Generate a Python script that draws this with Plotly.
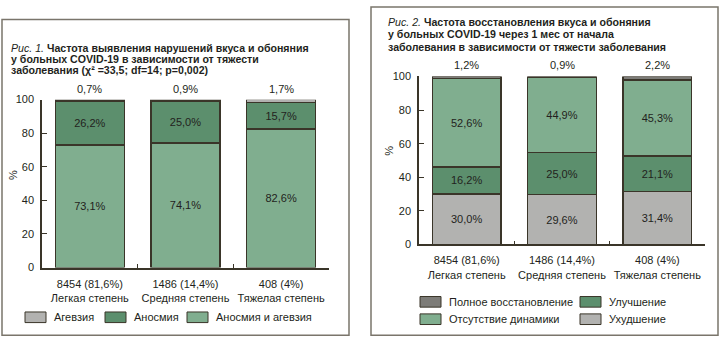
import plotly.graph_objects as go

W, H = 720, 345

# ---- data ----
cat_counts = ["8454 (81,6%)", "1486 (14,4%)", "408 (4%)"]
cat_names = ["Легкая степень", "Средняя степень", "Тяжелая степень"]

# Figure 1 (bottom -> top)
f1_both = [73.1, 74.1, 82.6]      # Аносмия и агевзия
f1_anosmia = [26.2, 25.0, 15.7]   # Аносмия
f1_ageusia = [0.7, 0.9, 1.7]      # Агевзия

# Figure 2 (bottom -> top)
f2_worse = [30.0, 29.6, 31.4]     # Ухудшение
f2_better = [16.2, 25.0, 21.1]    # Улучшение
f2_nochange = [52.6, 44.9, 45.3]  # Отсутствие динамики
f2_full = [1.2, 0.9, 2.2]         # Полное восстановление

yticks = [0, 20, 40, 60, 80, 100]

title1 = ["<i>Рис. 1.</i> <b>Частота выявления нарушений вкуса и обоняния</b>",
          "<b>у больных COVID-19 в зависимости от тяжести</b>",
          "<b>заболевания (χ² =33,5; df=14; p=0,002)</b>"]
title2 = ["<i>Рис. 2.</i> <b>Частота восстановления вкуса и обоняния</b>",
          "<b>у больных COVID-19 через 1 мес от начала</b>",
          "<b>заболевания в зависимости от тяжести заболевания</b>"]

# ---- styles ----
C_LGREEN = "#80ae8f"
C_DGREEN = "#5c8f6d"
C_LGRAY = "#b2b2b0"
C_DGRAY = "#7d7c78"
C_LINE = "#3a3529"
C_TEXT = "#231f20"
C_BORDER = "#7a756b"
FONT = "Liberation Sans, Arial, sans-serif"

cats = [f"{a}<br>{b}" for a, b in zip(cat_counts, cat_names)]

def px(x):
    return x / W

def py(y):
    return 1 - y / H

fig = go.Figure()
ann = []
shapes = []

def add_bar(vals, color, xa, ya, name, inside=True):
    kw = {}
    if inside:
        kw = dict(texttemplate="%{y:.1f}%", textposition="inside",
                  insidetextanchor="middle", constraintext="none",
                  textfont=dict(size=11, color=C_TEXT, family=FONT))
    fig.add_trace(go.Bar(
        x=cats, y=vals, name=name, xaxis=xa, yaxis=ya,
        marker=dict(color=color, line=dict(color=C_LINE, width=1.5)),
        cliponaxis=False, showlegend=False, **kw
    ))

def top_labels(stacks, top_vals, xa, ya):
    for i, c in enumerate(cats):
        total = min(sum(s[i] for s in stacks), 100)
        ann.append(dict(text=f"{top_vals[i]:.1f}%".replace(".", ","),
                        xref=xa, yref=ya, x=c, y=total, yanchor="bottom",
                        yshift=3, showarrow=False,
                        font=dict(size=11, color=C_TEXT, family=FONT)))

add_bar(f1_both, C_LGREEN, "x", "y", "Аносмия и агевзия")
add_bar(f1_anosmia, C_DGREEN, "x", "y", "Аносмия")
add_bar(f1_ageusia, C_LGRAY, "x", "y", "Агевзия", inside=False)
top_labels([f1_both, f1_anosmia, f1_ageusia], f1_ageusia, "x", "y")

add_bar(f2_worse, C_LGRAY, "x2", "y2", "Ухудшение")
add_bar(f2_better, C_DGREEN, "x2", "y2", "Улучшение")
add_bar(f2_nochange, C_LGREEN, "x2", "y2", "Отсутствие динамики")
add_bar(f2_full, C_DGRAY, "x2", "y2", "Полное восстановление", inside=False)
top_labels([f2_worse, f2_better, f2_nochange, f2_full], f2_full, "x2", "y2")

xcommon = dict(type="category", showline=True, linecolor=C_LINE, linewidth=1.5,
               ticks="inside", ticklen=4, tickwidth=1, tickcolor=C_LINE,
               tickson="boundaries", showgrid=False, zeroline=False, tickangle=0,
               ticklabelstandoff=5,
               tickfont=dict(size=11, color=C_TEXT, family=FONT))
ycommon = dict(range=[0, 100], tickvals=yticks, showline=True, linecolor=C_LINE,
               linewidth=1.5, ticks="inside", ticklen=5, tickwidth=1,
               tickcolor=C_LINE, showgrid=False, zeroline=False,
               ticklabelstandoff=4,
               tickfont=dict(size=11, color=C_TEXT, family=FONT))

fig.update_layout(
    width=W, height=H, autosize=False,
    margin=dict(l=0, r=0, t=0, b=0),
    paper_bgcolor="white", plot_bgcolor="white",
    barmode="stack", bargap=0.28,
    separators=", ",
    font=dict(family=FONT, color=C_TEXT),
    xaxis=dict(domain=[px(42), px(329)], anchor="y", **xcommon),
    yaxis=dict(domain=[py(271), py(97)], anchor="x", **ycommon),
    xaxis2=dict(domain=[px(419), px(705)], anchor="y2", **xcommon),
    yaxis2=dict(domain=[py(247), py(73)], anchor="x2", **ycommon),
)

# panel borders
shapes.append(dict(type="rect", xref="paper", yref="paper",
                   x0=px(2), x1=px(349), y0=py(341), y1=py(14),
                   line=dict(color=C_BORDER, width=1.5)))
shapes.append(dict(type="rect", xref="paper", yref="paper",
                   x0=px(371), x1=px(718), y0=py(341), y1=py(1),
                   line=dict(color=C_BORDER, width=1.5)))

# titles
for t, yy in zip(title1, [43, 54.5, 66]):
    ann.append(dict(text=t, xref="paper", yref="paper", x=px(9), y=py(yy),
                    xanchor="left", yanchor="middle", showarrow=False,
                    font=dict(size=10.6, color=C_TEXT, family=FONT)))
for t, yy in zip(title2, [17, 29.5, 42]):
    ann.append(dict(text=t, xref="paper", yref="paper", x=px(386), y=py(yy),
                    xanchor="left", yanchor="middle", showarrow=False,
                    font=dict(size=10.6, color=C_TEXT, family=FONT)))

# y-axis "%" labels
for xx, yy in [(13, 175), (389, 150)]:
    ann.append(dict(text="%", xref="paper", yref="paper", x=px(xx), y=py(yy),
                    textangle=-90, showarrow=False, xanchor="center", yanchor="middle",
                    font=dict(size=11, color=C_TEXT, family=FONT)))

# legends
def legend_item(x0, y0, color, label):
    shapes.append(dict(type="rect", xref="paper", yref="paper",
                       x0=px(x0), x1=px(x0 + 21), y0=py(y0 + 11), y1=py(y0),
                       fillcolor=color, line=dict(color=C_LINE, width=1)))
    ann.append(dict(text=label, xref="paper", yref="paper", x=px(x0 + 27),
                    y=py(y0 + 5.5), xanchor="left", yanchor="middle", showarrow=False,
                    font=dict(size=11, color=C_TEXT, family=FONT)))

legend_item(25, 317, C_LGRAY, "Агевзия")
legend_item(105, 317, C_DGREEN, "Аносмия")
legend_item(187, 317, C_LGREEN, "Аносмия и агевзия")

legend_item(420, 301, C_DGRAY, "Полное восстановление")
legend_item(580, 301, C_DGREEN, "Улучшение")
legend_item(420, 319, C_LGREEN, "Отсутствие динамики")
legend_item(580, 319, C_LGRAY, "Ухудшение")

fig.update_layout(shapes=shapes, annotations=ann)
fig.write_html("out.html")
